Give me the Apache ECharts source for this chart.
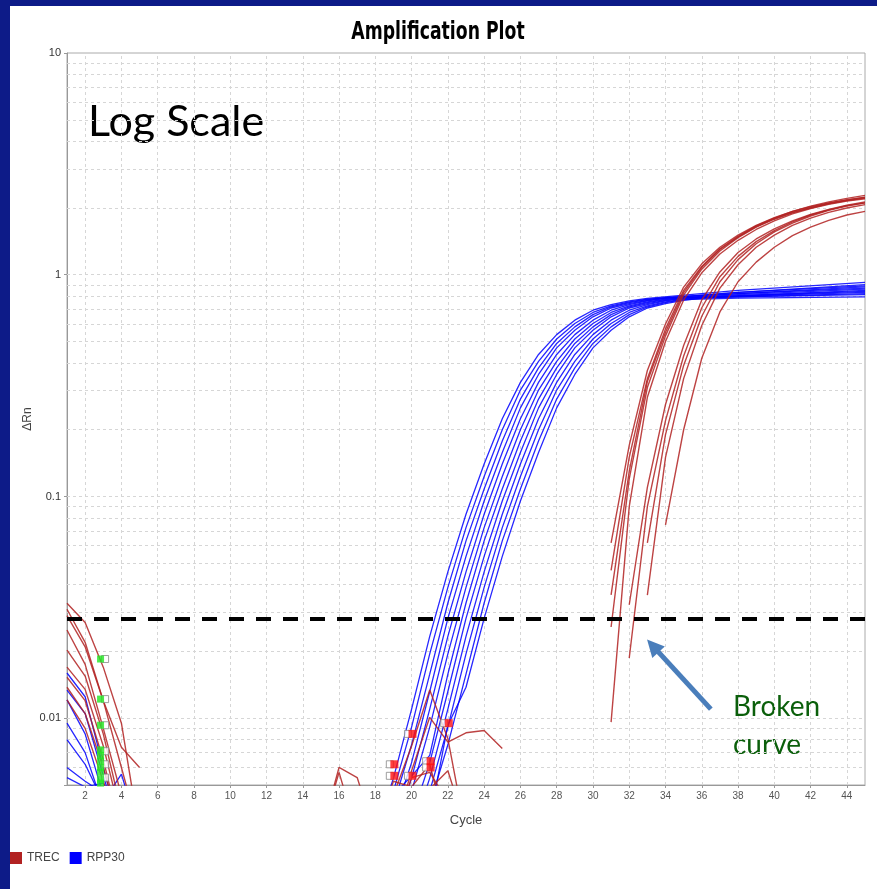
<!DOCTYPE html>
<html><head><meta charset="utf-8">
<script src="https://cdn.jsdelivr.net/npm/echarts@6/dist/echarts.min.js"></script>
<style>
html,body{margin:0;padding:0;width:877px;height:889px;background:#0d1b88;overflow:hidden}
#chart{position:absolute;left:10px;top:6px;width:867px;height:883px;background:#fff}
</style></head><body><div id="chart"></div>
<script>
// ---- axis / grid values ----
const xTicks = [2,4,6,8,10,12,14,16,18,20,22,24,26,28,30,32,34,36,38,40,42,44];
const yMajor = [0.01, 0.1, 1];
const yMinor = [0.006,0.007,0.008,0.009,0.02,0.03,0.04,0.05,0.06,0.07,0.08,0.09,
                0.2,0.3,0.4,0.5,0.6,0.7,0.8,0.9,2,3,4,5,6,7,8,9];
const threshold = 0.0282;
const arrowTail = [36.5, 0.0110];
const arrowHead = [33.3, 0.0212];

// ---- RPP30 amplification curves [cycle, dRn] ----
const rpp30_1 = [[18,0.00302],[19,0.00537],[20,0.011],[21,0.0234],[22,0.0457],[23,0.0832],[24,0.14],[25,0.224],[26,0.327],[27,0.437],[28,0.537],[29,0.624],[30,0.692],[31,0.733],[32,0.762],[33,0.782],[38,0.851],[45,0.923]];
const rpp30_2 = [[18,0.00251],[19,0.00468],[20,0.00912],[21,0.0195],[22,0.0389],[23,0.0724],[24,0.123],[25,0.2],[26,0.302],[27,0.407],[28,0.513],[29,0.603],[30,0.676],[31,0.724],[32,0.755],[33,0.776],[38,0.832],[45,0.891]];
const rpp30_3 = [[18,0.00209],[19,0.00407],[20,0.00759],[21,0.0158],[22,0.0331],[23,0.0631],[24,0.108],[25,0.178],[26,0.275],[27,0.38],[28,0.49],[29,0.582],[30,0.661],[31,0.716],[32,0.748],[33,0.773],[34,0.789],[38,0.822],[45,0.871]];
const rpp30_4 = [[19,0.00355],[20,0.00631],[21,0.0132],[22,0.0282],[23,0.0537],[24,0.0955],[25,0.158],[26,0.251],[27,0.355],[28,0.468],[29,0.562],[30,0.646],[31,0.708],[32,0.741],[33,0.767],[34,0.785],[38,0.832],[45,0.902]];
const rpp30_5 = [[19,0.00302],[20,0.00537],[21,0.011],[22,0.0234],[23,0.0457],[24,0.0832],[25,0.14],[26,0.224],[27,0.327],[28,0.437],[29,0.537],[30,0.624],[31,0.692],[32,0.733],[33,0.762],[34,0.782],[38,0.804],[45,0.851]];
const rpp30_6 = [[19,0.00251],[20,0.00468],[21,0.00912],[22,0.0195],[23,0.0389],[24,0.0724],[25,0.123],[26,0.2],[27,0.302],[28,0.407],[29,0.513],[30,0.603],[31,0.676],[32,0.724],[33,0.755],[34,0.776],[38,0.822],[45,0.881]];
const rpp30_7 = [[19,0.0045],[20,0.0055],[21,0.0068],[22,0.0158],[23,0.0331],[24,0.0631],[25,0.108],[26,0.178],[27,0.275],[28,0.38],[29,0.49],[30,0.582],[31,0.661],[32,0.716],[33,0.748],[34,0.773],[35,0.789],[38,0.8],[45,0.832]];
const rpp30_8 = [[20,0.00355],[21,0.00631],[22,0.0132],[23,0.0282],[24,0.0537],[25,0.0955],[26,0.158],[27,0.251],[28,0.355],[29,0.468],[30,0.562],[31,0.646],[32,0.708],[33,0.741],[34,0.767],[35,0.785],[38,0.813],[45,0.861]];
const rpp30_9 = [[20,0.00302],[21,0.00537],[22,0.011],[23,0.0234],[24,0.0457],[25,0.0832],[26,0.14],[27,0.224],[28,0.327],[29,0.437],[30,0.537],[31,0.624],[32,0.692],[33,0.733],[34,0.762],[35,0.782],[38,0.794],[45,0.813]];
const rpp30_10 = [[20,0.00251],[21,0.00468],[22,0.00912],[23,0.0195],[24,0.0389],[25,0.0724],[26,0.123],[27,0.2],[28,0.302],[29,0.407],[30,0.513],[31,0.603],[32,0.676],[33,0.724],[34,0.755],[35,0.776],[38,0.804],[45,0.841]];
const rpp30_11 = [[20,0.00209],[21,0.00407],[22,0.00759],[23,0.0158],[24,0.0331],[25,0.0631],[26,0.108],[27,0.178],[28,0.275],[29,0.38],[30,0.49],[31,0.582],[32,0.661],[33,0.716],[34,0.748],[35,0.773],[38,0.785],[45,0.794]];
const rpp30_12 = [[21,0.0035],[22,0.0093],[23,0.0138],[24,0.0282],[25,0.0537],[26,0.0955],[27,0.158],[28,0.251],[29,0.355],[30,0.468],[31,0.562],[32,0.646],[33,0.708],[34,0.741],[35,0.767],[36,0.785],[38,0.794],[45,0.822]];
// RPP30 early-cycle noise
const rpp30_n1 = [[1,0.016],[2,0.0125],[3,0.006],[4,0.003]];
const rpp30_n2 = [[1,0.0134],[2,0.0105],[3,0.0055],[4,0.003]];
const rpp30_n3 = [[1,0.0121],[2,0.0085],[3,0.0045]];
const rpp30_n4 = [[1,0.0095],[2,0.007],[3,0.004]];
const rpp30_n5 = [[1,0.008],[2,0.0062],[3,0.0042],[4,0.0056],[5,0.003]];
const rpp30_n6 = [[1,0.006],[2,0.0052],[3,0.0046],[4,0.003]];
const rpp30_n7 = [[1,0.0054],[2,0.0049],[3,0.0051],[4,0.0035]];

// ---- TREC amplification curves ----
const trec_1 = [[31,0.0618],[32,0.17],[33,0.37],[34,0.6],[35,0.88],[36,1.12],[37,1.33],[38,1.51],[39,1.67],[40,1.81],[41,1.93],[42,2.03],[43,2.11],[44,2.18],[45,2.24]];
const trec_2 = [[31,0.0464],[32,0.15],[33,0.34],[34,0.57],[35,0.85],[36,1.09],[37,1.31],[38,1.49],[39,1.66],[40,1.8],[41,1.93],[42,2.04],[43,2.13],[44,2.21],[45,2.28]];
const trec_3 = [[31,0.0258],[32,0.12],[33,0.31],[34,0.53],[35,0.81],[36,1.06],[37,1.28],[38,1.47],[39,1.64],[40,1.78],[41,1.9],[42,2.0],[43,2.09],[44,2.16],[45,2.22]];
const trec_4 = [[31,0.0096],[32,0.09],[33,0.28],[34,0.5],[35,0.77],[36,1.02],[37,1.24],[38,1.43],[39,1.6],[40,1.75],[41,1.88],[42,1.99],[43,2.08],[44,2.15],[45,2.2]];
const trec_5 = [[31,0.036],[32,0.13],[33,0.33],[34,0.55],[35,0.83],[36,1.08],[37,1.3],[38,1.48],[39,1.65],[40,1.79],[41,1.91],[42,2.01],[43,2.1],[44,2.17],[45,2.23]];
const trec_6 = [[32,0.0325],[33,0.11],[34,0.26],[35,0.48],[36,0.77],[37,1.03],[38,1.26],[39,1.45],[40,1.61],[41,1.75],[42,1.87],[43,1.97],[44,2.06],[45,2.13]];
const trec_7 = [[32,0.0187],[33,0.09],[34,0.22],[35,0.43],[36,0.71],[37,0.98],[38,1.21],[39,1.41],[40,1.58],[41,1.73],[42,1.86],[43,1.96],[44,2.05],[45,2.11]];
const trec_8 = [[33,0.0618],[34,0.19],[35,0.39],[36,0.65],[37,0.93],[38,1.17],[39,1.38],[40,1.56],[41,1.71],[42,1.84],[43,1.95],[44,2.04],[45,2.11]];
const trec_9 = [[33,0.0359],[34,0.15],[35,0.34],[36,0.59],[37,0.87],[38,1.11],[39,1.33],[40,1.51],[41,1.67],[42,1.8],[43,1.91],[44,2.0],[45,2.07]];
const trec_10 = [[34,0.0745],[35,0.2],[36,0.42],[37,0.68],[38,0.93],[39,1.14],[40,1.33],[41,1.5],[42,1.64],[43,1.76],[44,1.86],[45,1.93]];
// TREC noise
const trec_n1 = [[1,0.033],[2,0.027],[3,0.017],[4,0.0095],[5,0.003]];
const trec_n2 = [[1,0.031],[2,0.022],[3,0.012],[4,0.006],[5,0.003]];
const trec_n3 = [[1,0.029],[2,0.021],[3,0.012],[4,0.0074],[5,0.006]];
const trec_n4 = [[1,0.025],[2,0.0175],[3,0.009],[4,0.0045]];
const trec_n5 = [[1,0.0203],[2,0.0155],[3,0.0085],[4,0.0038]];
const trec_n6 = [[1,0.017],[2,0.0135],[3,0.0075],[4,0.0035]];
const trec_n7 = [[1,0.0153],[2,0.012],[3,0.0065],[4,0.003]];
const trec_n8 = [[1,0.0138],[2,0.0105],[3,0.006],[4,0.003]];
const trec_n9 = [[1,0.0121],[2,0.009],[3,0.0052],[4,0.003]];
const trec_n10 = [[15,0.003],[16,0.006],[17,0.0054],[18,0.003]];
const trec_n11 = [[15,0.003],[16,0.0057],[17,0.003]];
const trec_n12 = [[18,0.003],[19,0.0045],[20,0.0075],[21,0.0134],[22,0.0081],[23,0.003]];
const trec_n13 = [[19,0.003],[20,0.0058],[21,0.0101],[22,0.0078],[23,0.0086],[24,0.0088],[25,0.0073]];
const trec_n14 = [[19,0.003],[20,0.0054],[21,0.0057],[22,0.0042],[23,0.003]];
const trec_n15 = [[20,0.003],[21,0.0048],[22,0.0058],[23,0.0032]];
const trec_n16 = [[18,0.003],[19,0.0052],[20,0.0049],[21,0.0062],[22,0.003]];

// ---- markers ----
const ctRed = [[19.05,0.0062],[19.05,0.0055],[20.05,0.0085],[20.05,0.0055],[21.05,0.0064],[21.05,0.006],[22.05,0.0095]];
const ctRedHollow = [[18.8,0.0062],[18.8,0.0055],[19.8,0.0085],[19.8,0.0055],[20.8,0.0064],[20.8,0.006],[21.8,0.0095]];
const baseGreen = [[2.85,0.0185],[2.85,0.0122],[2.85,0.0093],[2.85,0.0072],[2.85,0.0068],[2.85,0.0064],[2.85,0.006],[2.85,0.0057],[2.85,0.0053],[2.85,0.0051]];
const baseGreenHollow = [[3.1,0.0185],[3.1,0.0122],[3.1,0.0093],[3.1,0.0071],[3.1,0.0062],[3.1,0.0054]];

const rppCurves = [rpp30_1,rpp30_2,rpp30_3,rpp30_4,rpp30_5,rpp30_6,rpp30_7,rpp30_8,rpp30_9,rpp30_10,rpp30_11,rpp30_12,
  rpp30_n1,rpp30_n2,rpp30_n3,rpp30_n4,rpp30_n5,rpp30_n6,rpp30_n7];
const trecCurves = [trec_1,trec_2,trec_3,trec_4,trec_5,trec_6,trec_7,trec_8,trec_9,trec_10,
  trec_n1,trec_n2,trec_n3,trec_n4,trec_n5,trec_n6,trec_n7,trec_n8,trec_n9,trec_n10,trec_n11,trec_n12,trec_n13,trec_n14,trec_n15,trec_n16];

const RED = '#B22222', BLUE = '#0000FF';
const series = [];
series.push({
  type:'line', name:'grid', data:[], silent:true,
  markLine:{ silent:true, symbol:'none', z:1, precision:10, animation:false, label:{show:false},
    lineStyle:{color:'#d6d6d6', type:[3,3], width:1},
    emphasis:{disabled:true},
    data:[...yMinor.map(v=>({yAxis:v})), ...yMajor.map(v=>({yAxis:v})), ...xTicks.map(v=>({xAxis:v}))]}
});
rppCurves.forEach(d=>series.push({type:'line', name:'RPP30', data:d, showSymbol:false, symbol:'none', z:2,
  lineStyle:{color:BLUE, width:1.3, opacity:0.85}, itemStyle:{color:BLUE}, animation:false, silent:true}));
trecCurves.forEach(d=>series.push({type:'line', name:'TREC', data:d, showSymbol:false, symbol:'none', z:3,
  lineStyle:{color:RED, width:1.4, opacity:0.85}, itemStyle:{color:RED}, animation:false, silent:true}));
series.push({type:'scatter', name:'ctHollow', data:ctRedHollow, symbol:'rect', symbolSize:7, z:4, animation:false, silent:true,
  itemStyle:{color:'#fff', borderColor:'#888', borderWidth:1}});
series.push({type:'scatter', name:'ct', data:ctRed, symbol:'rect', symbolSize:8, z:4, animation:false, silent:true,
  itemStyle:{color:'#ff1010'}});
series.push({type:'scatter', name:'baseHollow', data:baseGreenHollow, symbol:'rect', symbolSize:7, z:4, animation:false, silent:true,
  itemStyle:{color:'#fff', borderColor:'#888', borderWidth:1}});
series.push({type:'scatter', name:'base', data:baseGreen, symbol:'rect', symbolSize:7, z:4, animation:false, silent:true,
  itemStyle:{color:'#22e622'}});
series.push({type:'line', name:'threshold', data:[], silent:true,
  markLine:{silent:true, symbol:'none', z:6, precision:10, animation:false, label:{show:false}, emphasis:{disabled:true},
    lineStyle:{color:'#000', width:4, type:[15,12]}, data:[{yAxis:threshold}]}});
series.push({type:'line', name:'arrow', data:[], silent:true,
  markLine:{silent:true, symbol:['none','triangle'], symbolSize:17, z:7, precision:10, animation:false, label:{show:false}, emphasis:{disabled:true},
    lineStyle:{color:'#4a7ebb', width:5, type:'solid'}, itemStyle:{color:'#4a7ebb'},
    data:[[{coord:arrowTail},{coord:arrowHead}]]}});

const option = {
  animation:false,
  backgroundColor:'#fff',
  legend:{data:[{name:'TREC', itemStyle:{color:RED}},{name:'RPP30', itemStyle:{color:BLUE}}],
    icon:'rect', left:0, top:846, padding:0, itemWidth:12, itemHeight:12, itemGap:10,
    textStyle:{fontFamily:'Liberation Sans', fontSize:12, color:'#444'}, selectedMode:false},
  grid:{left:57, right:12, top:47, bottom:104, show:true, borderColor:'#aaa', borderWidth:1, containLabel:false},
  xAxis:{type:'value', min:1, max:45, name:'Cycle', nameLocation:'middle', nameGap:29, nameMoveOverlap:false,
    nameTextStyle:{fontFamily:'Liberation Sans', fontSize:13, color:'#444'},
    axisLine:{show:true, lineStyle:{color:'#999'}}, splitLine:{show:false},
    axisTick:{show:true, length:3, customValues:xTicks, lineStyle:{color:'#999'}},
    axisLabel:{customValues:xTicks, fontFamily:'Liberation Sans', fontSize:10, color:'#555', margin:6}},
  yAxis:{type:'log', logBase:10, min:0.005, max:10, name:'ΔRn', nameLocation:'middle', nameGap:33, nameMoveOverlap:false,
    nameTextStyle:{fontFamily:'Liberation Sans', fontSize:12, color:'#444'},
    axisLine:{show:true, lineStyle:{color:'#999'}}, splitLine:{show:false}, minorSplitLine:{show:false},
    axisTick:{show:true, length:3, lineStyle:{color:'#999'}},
    axisLabel:{fontFamily:'Liberation Sans', fontSize:11, color:'#333', margin:6,
      formatter:v=>{const s=+(+v).toPrecision(3); return s<0.009?'':String(s);}}},
  graphic:[
    {type:'text', x:428, y:15, scaleX:0.8, style:{text:'Amplification Plot', align:'center', verticalAlign:'top',
      fontFamily:'"DejaVu Sans Condensed","DejaVu Sans",sans-serif', fontWeight:'bold', fontSize:24, fill:'#000'}},
    {type:'text', left:78, top:95, style:{text:'Log Scale', fontFamily:'Lato', fontSize:43, fill:'#000'}},
    {type:'text', left:723, top:687, style:{text:'Broken', fontFamily:'Lato', fontSize:28, fill:'#0b5f0b'}},
    {type:'text', left:723, top:725, style:{text:'curve', fontFamily:'Lato', fontSize:28, fill:'#0b5f0b'}}
  ],
  series
};
const chart = echarts.init(document.getElementById('chart'));
chart.setOption(option);
</script></body></html>
